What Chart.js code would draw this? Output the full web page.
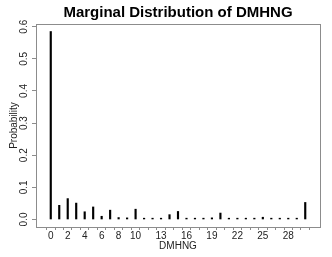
<!DOCTYPE html>
<html>
<head>
<meta charset="utf-8">
<script src="https://cdn.jsdelivr.net/npm/chart.js@4"></script>
<style>
  html, body { margin: 0; padding: 0; background: #fff; }
  #wrap { width: 332px; height: 257px; }
</style>
</head>
<body>
<div id="wrap"><canvas id="distChart" width="332" height="257"></canvas></div>
<script>
// values
const categories = [0, 1, 2, 3, 4, 5, 6, 7, 8, 9, 10, 11, 12, 13, 14, 15,
                    16, 17, 18, 19, 20, 21, 22, 23, 24, 25, 26, 27, 28, 29, 30];
const probabilities = [0.585, 0.044, 0.065, 0.051, 0.024, 0.039, 0.010, 0.029,
                       0.006, 0.005, 0.032, 0.004, 0.004, 0.004, 0.015, 0.025,
                       0.004, 0.004, 0.004, 0.005, 0.020, 0.004, 0.004, 0.004,
                       0.004, 0.007, 0.004, 0.004, 0.004, 0.004, 0.053];
const xTickLabels = [0, 2, 4, 6, 8, 10, 13, 16, 19, 22, 25, 28];
const yTicks = [0, 0.1, 0.2, 0.3, 0.4, 0.5, 0.6];
const chartTitle = 'Marginal Distribution of DMHNG';

const axisGrey = '#8c8c8c';
const textCol = '#222';
const fontFam = '"Liberation Sans", Arial, Helvetica, sans-serif';

// full box around the plot region and a title centred over it, R style
const boxPlugin = {
    id: 'plotBox',
    afterDraw(chart) {
        const { ctx, chartArea: a } = chart;
        ctx.save();
        ctx.strokeStyle = axisGrey;
        ctx.lineWidth = 1;
        ctx.strokeRect(Math.round(a.left) + 0.5, Math.round(a.top) + 0.5,
                       Math.round(a.right - a.left), Math.round(a.bottom - a.top));
        ctx.fillStyle = '#000';
        ctx.font = 'bold 15px ' + fontFam;
        ctx.textAlign = 'center';
        ctx.textBaseline = 'alphabetic';
        ctx.fillText(chartTitle, (a.left + a.right) / 2, 17);
        ctx.restore();
    }
};

const ctx = document.getElementById('distChart').getContext('2d');
new Chart(ctx, {
    type: 'bar',
    data: {
        datasets: [{
            label: 'Probability',
            data: categories.map((c, i) => ({ x: c, y: probabilities[i] })),
            backgroundColor: '#000',
            borderWidth: 0,
            barThickness: 1.5
        }]
    },
    options: {
        responsive: false,
        animation: false,
        layout: { padding: { left: 8, right: 12, top: 24, bottom: 5 } },
        plugins: {
            legend: { display: false },
            tooltip: { enabled: false },
            title: { display: false }
        },
        scales: {
            x: {
                type: 'linear',
                min: -1.2,
                max: 31.2,
                afterBuildTicks: (s) => { s.ticks = categories.map(v => ({ value: v })); },
                afterFit: (s) => { s.height = 25; },
                grid: { drawOnChartArea: false, drawTicks: true, tickLength: 3, color: axisGrey },
                border: { display: false },
                ticks: {
                    autoSkip: false,
                    maxRotation: 0,
                    padding: 0,
                    color: textCol,
                    font: { family: fontFam, size: 10 },
                    callback: (v) => xTickLabels.includes(v) ? String(v) : ''
                },
                title: {
                    display: true,
                    text: 'DMHNG',
                    color: textCol,
                    font: { family: fontFam, size: 10 },
                    padding: { top: 0, bottom: 0 }
                }
            },
            y: {
                min: -0.0234,
                max: 0.6084,
                afterBuildTicks: (s) => { s.ticks = yTicks.map(v => ({ value: v })); },
                afterFit: (s) => { s.width = 28; },
                grid: { drawOnChartArea: false, drawTicks: true, tickLength: 4, color: axisGrey },
                border: { display: false },
                ticks: {
                    minRotation: 90,
                    maxRotation: 90,
                    crossAlign: 'center',
                    padding: 1,
                    color: textCol,
                    font: { family: fontFam, size: 10 },
                    callback: (v) => v.toFixed(1)
                },
                title: {
                    display: true,
                    text: 'Probability',
                    color: textCol,
                    font: { family: fontFam, size: 10 },
                    padding: { top: 0, bottom: 0 }
                }
            }
        }
    },
    plugins: [boxPlugin]
});
</script>
</body>
</html>
